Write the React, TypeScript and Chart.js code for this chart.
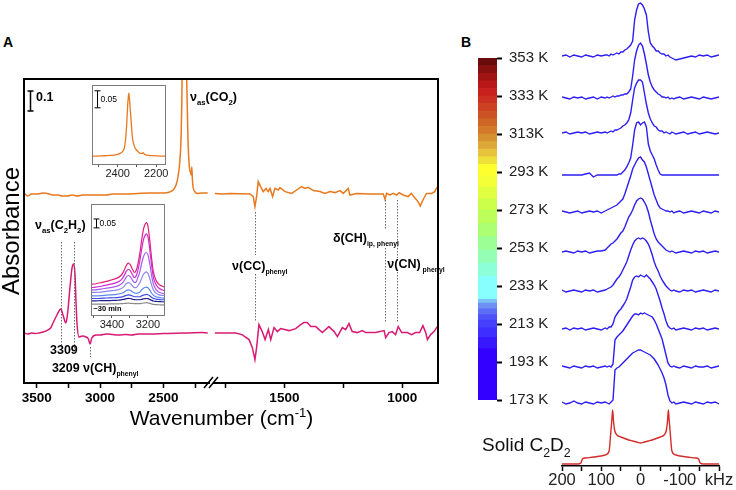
import React, { useEffect, useRef } from 'react';
import { Chart, registerables } from 'chart.js';
Chart.register(...registerables);

const FONT = "Arial, 'Liberation Sans', Helvetica, sans-serif";
const ORANGE = '#e8791f';
const MAGENTA = '#d81a74';
const BLUE = '#2d1ef5';
const RED = '#d42a2a';

// ---------------- Panel A : IR spectra ----------------
const ORANGE_OFFSET = 0.94;
const MAGENTA_OFFSET = 0.25;
const TICKS_LEFT = [3500, 3250, 3000, 2750, 2500, 2250];
const TICKS_RIGHT = [1750, 1500, 1250, 1000];

const ORG_L_WN = [3600,3570,3540,3500,3470,3440,3400,3370,3330,3300,3260,3220,3180,3140,3100,3050,3000,2950,2900,2800,2700,2600,2500,2450,2424,2400,2385,2370,2360,2352,2345,2340,2330,2322,2315,2306,2295,2285,2280,2276,2272,2266,2250,2235,2200,2170,2150];
const ORG_L = [0.01,-0.005,0.005,0.005,0.008,0.01,0.005,0,0,-0.005,-0.005,0,-0.005,0,0,0,0,0,0.005,0.005,0.008,0.01,0.01,0.015,0.025,0.05,0.09,0.17,0.3,0.6,1.2,1.6,1.4,0.9,0.55,0.28,0.14,0.11,0.1,0.14,0.09,0.04,0.015,0.008,0.01,0.01,0.01];

const ORG_R_WN = [1795,1760,1731,1690,1646,1632,1625,1618,1611,1601,1590,1578,1569,1561,1550,1540,1526,1519,1497,1469,1448,1427,1413,1399,1377,1349,1328,1307,1285,1264,1250,1229,1222,1193,1137,1080,1073,1066,1052,1038,1024,1013,996,975,961,951,933,923,912,897,876,862,855,850];
const ORG_R = [0.008,0.005,0.008,0.006,0.005,-0.008,-0.058,-0.008,0.067,0.042,0.017,0.033,0.017,0.033,-0.008,0.033,0.025,0.037,0.017,0.008,0.025,0.042,0.033,0.038,0.022,0.017,0.008,0.017,0.012,0.022,0.008,0.033,0,0.008,0.005,0.005,-0.022,0.008,0,0.008,0,0.012,0,-0.008,0.008,-0.008,-0.033,-0.055,-0.025,0.008,0.008,0.017,0.033,0.04];

const MAG_L_WN = [3600,3570,3540,3510,3480,3450,3420,3390,3371,3340,3309,3292,3270,3262,3253,3237,3221,3209,3198,3190,3182,3166,3140,3110,3092,3079,3065,3030,3000,2950,2900,2850,2800,2750,2700,2600,2500,2400,2300,2200,2150];
const MAG_L = [0,-0.005,0,-0.003,0,0.005,0.012,0.025,0.05,0.09,0.12,0.09,0.05,0.07,0.115,0.23,0.325,0.345,0.3,0.165,0.05,-0.02,-0.015,-0.02,-0.03,-0.055,-0.025,-0.01,-0.01,-0.005,-0.008,-0.01,-0.008,-0.01,-0.005,-0.005,-0.003,-0.001,0,0.002,0];

const MAG_R_WN = [1795,1760,1707,1680,1650,1636,1625,1618,1608,1594,1582,1568,1558,1544,1530,1516,1480,1452,1431,1417,1403,1388,1367,1339,1311,1289,1275,1254,1240,1226,1212,1191,1169,1155,1112,1077,1070,1056,1042,1028,1017,1002,978,960,943,926,912,900,893,879,865,851];
const MAG_R = [0,0,0,-0.008,-0.033,-0.073,-0.133,-0.073,0.042,0.007,-0.033,0.017,-0.033,0.027,0.007,0.022,0.012,0.022,0.042,0.052,0.052,0.032,0.032,0.002,0.032,0.007,-0.018,0.027,0.017,0.047,0.007,0.002,0.012,0.002,0.002,0.012,-0.023,0.002,0.007,-0.008,0.032,0.002,0.002,-0.008,0.002,0.002,0.037,0.002,-0.033,-0.008,0.007,0.032];

// inset 1 (CO2 band)
const INS1_WN = [2530,2480,2440,2420,2400,2385,2374,2365,2359,2354,2350,2346,2342,2338,2333,2328,2324,2316,2308,2295,2282,2272,2267,2262,2248,2200,2150];
const INS1 = [0.026,0.027,0.028,0.029,0.031,0.035,0.04,0.05,0.074,0.11,0.153,0.19,0.211,0.19,0.153,0.115,0.084,0.06,0.049,0.04,0.034,0.034,0.036,0.032,0.029,0.027,0.026];
const INS1_TICKS = [2500, 2400, 2300, 2200];

// inset 2 (C2H2 uptake series, top -> bottom)
const INS2_WN = [3515,3490,3460,3430,3400,3375,3350,3335,3320,3309,3298,3285,3275,3265,3255,3245,3235,3225,3217,3209,3200,3190,3180,3170,3155,3140,3120,3105];
const INS2_T1 = [0.178,0.181,0.187,0.194,0.203,0.211,0.227,0.249,0.283,0.297,0.288,0.261,0.244,0.256,0.294,0.35,0.423,0.484,0.512,0.524,0.506,0.428,0.328,0.251,0.201,0.179,0.167,0.161];
const INS2_T2 = [0.159,0.162,0.167,0.173,0.18,0.187,0.201,0.221,0.25,0.262,0.254,0.23,0.216,0.225,0.259,0.308,0.372,0.426,0.45,0.461,0.445,0.377,0.288,0.22,0.176,0.157,0.146,0.141];
const INS2_T3 = [0.146,0.147,0.151,0.156,0.161,0.166,0.178,0.193,0.217,0.227,0.221,0.2,0.188,0.191,0.218,0.247,0.293,0.331,0.349,0.356,0.344,0.295,0.231,0.182,0.149,0.134,0.127,0.122];
const INS2_T4 = [0.132,0.133,0.134,0.138,0.142,0.145,0.153,0.163,0.181,0.187,0.183,0.168,0.159,0.159,0.171,0.186,0.211,0.233,0.242,0.247,0.24,0.212,0.176,0.147,0.128,0.12,0.115,0.113];
const INS2_T5 = [0.113,0.113,0.114,0.117,0.119,0.121,0.126,0.132,0.143,0.147,0.144,0.135,0.13,0.127,0.13,0.134,0.146,0.156,0.16,0.162,0.158,0.146,0.129,0.117,0.108,0.104,0.101,0.1];
const INS2_T6 = [0.098,0.098,0.099,0.101,0.102,0.103,0.106,0.11,0.116,0.118,0.117,0.112,0.108,0.108,0.108,0.108,0.113,0.117,0.119,0.121,0.119,0.113,0.105,0.099,0.095,0.093,0.091,0.091];
const INS2_T7 = [0.085,0.085,0.086,0.086,0.087,0.088,0.09,0.093,0.097,0.099,0.098,0.094,0.092,0.091,0.091,0.091,0.093,0.096,0.097,0.098,0.097,0.093,0.088,0.084,0.082,0.081,0.08,0.079];
const INS2_T8 = [0.067,0.067,0.067,0.067,0.068,0.068,0.069,0.07,0.071,0.072,0.071,0.07,0.069,0.069,0.069,0.069,0.071,0.073,0.074,0.075,0.074,0.071,0.068,0.065,0.064,0.063,0.062,0.061];
const INS2_SERIES = [INS2_T8, INS2_T7, INS2_T6, INS2_T5, INS2_T4, INS2_T3, INS2_T2, INS2_T1];
const INS2_COLORS = ['#8a8a8a', '#1c1c8c', '#3a4ee0', '#5b86f0', '#8b85f2', '#a75cf0', '#d02ad0', '#e0207a'];
const INS2_TICKS = [3500, 3400, 3300, 3200];

// ---------------- Panel B : 2H NMR ----------------
const KHZ = [200,190,180,170,160,150,140,130,120,110,100,90,85,80,75,70,65,60,55,50,45,40,35,30,25,20,15,10,5,0,-5,-10,-15,-20,-25,-30,-35,-40,-45,-50,-55,-60,-65,-70,-75,-80,-85,-90,-100,-110,-120,-130,-140,-150,-160,-170,-180,-190,-200];
const NMR_353 = [0,1,-1,1,0,-1,1,0,-1,1,0,1, 1,0,2,1,2,3,2,4,4,6,7,9,11,15,36,46,52,53,51,47,41,24,13,10,8,5,5,3,2,2,0,1,-1,-2,-3, -4,-3,-2,-1,0,-1,1,0,1,-1,0,1];
const NMR_333 = [1,0,-1,1,0,1,-1,0,1,-1,1,0, 1,0,1,2,1,2,2,3,3,4,4,6,9,22,38,47,53,55,52,44,34,23,16,11,8,6,4,3,1,1,0,1,-1,0,-1, 0,1,-1,0,1,0,-1,1,0,-1,0,1];
const NMR_313 = [0,1,-1,0,1,0,1,-1,0,1,0,1, 0,1,2,1,3,3,4,5,7,8,10,13,20,33,45,50,53,53,51,40,29,20,14,10,7,6,3,2,2,0,1,0,-1,1,0, -1,0,1,-1,0,1,-1,0,1,0,-1,0];
const NMR_293 = [0,0,0,0,0,0,1,2,-2,0,0,0, 0,0,0,0,0,0,1,1,3,5,8,12,17,30,45,52,53,50,52,53,48,31,24,20,16,10,5,1,0,0,0,0,0,0,0, 0,0,0,0,0,0,0,0,0,0,0,0];
const NMR_273 = [1,0,-1,0,1,-1,0,1,0,1,-1,1, 2,3,4,5,6,7,9,11,13,18,24,30,36,43,47,51,54,55,52,50,45,38,31,24,17,12,7,4,3,2,1,1,0,1,-1, 0,1,-1,0,1,0,-1,1,0,-1,1,0];
const NMR_253 = [0,1,0,-1,1,0,1,-1,0,1,1,2, 4,6,8,9,11,13,16,19,21,25,30,35,38,42,47,51,53,54,53,50,46,40,32,25,18,13,10,8,6,4,2,1,0,1,0, -1,0,1,0,-1,1,0,1,-1,0,1,0];
const NMR_233 = [1,-1,0,1,0,-1,1,0,1,-1,0,1, 2,3,4,6,9,12,14,17,21,25,29,35,41,46,50,52,53,52,53,52,50,47,42,36,29,24,20,15,11,8,5,3,1,0,1, 0,-1,1,0,1,-1,0,1,0,-1,1,0];
const NMR_213 = [0,1,-1,1,0,1,-1,0,1,0,-1,1, 0,2,2,5,12,15,18,20,23,26,30,36,42,49,52,53,52,54,53,52,54,52,50,47,44,40,34,28,21,15,8,3,1,0,1, -1,0,1,0,-1,1,0,1,-1,0,1,0];
const NMR_193 = [1,0,-1,1,0,-1,1,0,1,-1,0,1, 0,1,0,3,27,30,32,34,36,39,42,45,48,51,53,53,52,54,53,54,53,52,51,50,47,43,38,33,28,20,12,4,1,0,1, 0,-1,1,0,-1,1,0,0,1,-1,0,1];
const NMR_173 = [1,-1,0,2,0,-1,1,0,-1,1,0,1, 0,-1,1,3,33,35,36,38,40,42,44,46,48,50,51,52,53,53,52,51,50,49,48,46,44,41,38,34,30,25,18,8,2,0,1, -1,0,1,0,-1,1,0,-1,1,0,1,-1];
const NMR_SERIES = [NMR_353, NMR_333, NMR_313, NMR_293, NMR_273, NMR_253, NMR_233, NMR_213, NMR_193, NMR_173];
const NMR_OFFSETS = [410, 368, 333, 291, 254, 214, 175, 137, 99, 63];

const SOLID_KHZ = [200,180,160,152,148,140,120,100,90,80,76,73,71,69,66,60,50,40,30,20,10,0,-10,-20,-30,-40,-50,-60,-66,-69,-71,-73,-76,-80,-90,-100,-120,-140,-148,-152,-160,-180,-200];
const SOLID_I = [2,2,2,3,7,8,9,10,11,15,32,46,56,46,36,31,29,27.5,26,25,24,23,24,25,26,27.5,29,31,36,46,56,46,32,15,11,10,9,8,7,3,2,2,2];

const KHZ_TICKS = [200, 150, 100, 50, 0, -50, -100, -150, -200];
const KHZ_LABELS: Record<string, string> = { '200': '200', '100': '100', '0': '0', '-100': '-100', '-200': 'kHz' };

// colour bar
const CB_TICKS = [353, 333, 313, 293, 273, 253, 233, 213, 193, 173];
const CB_LABELS = ['353 K', '333 K', '313K', '293 K', '273 K', '253 K', '233 K', '213 K', '193 K', '173 K'];
const CB_EDGES = [173,200,206,211,215,218,221,224,226,238,245,252,259,266,273,279,285,291,297,301,305,309,313,317,321,325,329,333,337,341,345,349,353];
const CB_COLORS = ['#3300ff','#3818ff','#3e2eff','#4640fc','#4e52f8','#5c6ef5','#6c90f4','#7cc0f8','#88ffff','#8cffd8','#94ffb4','#9cff96','#acff72','#bcff5a','#ccff4a','#e0ff40','#f4ff38','#ffff30','#f0e03c','#e8c43e','#dea838','#d69030','#d27a2a','#ce6626','#cc5424','#cc4222','#cc3020','#c8201c','#b81818','#a01414','#861010','#6a0c0c'];

// ---------------- helpers ----------------
type Seg = { t: string; s?: 'sub' | 'sup'; k?: number };

function drawRich(ctx: any, segs: Seg[], x: number, y: number, size: number, weight: string, color: string, align: 'left' | 'center' = 'left') {
  ctx.save();
  ctx.fillStyle = color;
  ctx.textBaseline = 'alphabetic';
  ctx.textAlign = 'left';
  const sz = (g: Seg) => (g.s ? size * (g.k || 0.62) : size);
  let w = 0;
  for (const g of segs) { ctx.font = `${weight} ${sz(g)}px ${FONT}`; w += ctx.measureText(g.t).width; }
  let cx = align === 'center' ? x - w / 2 : x;
  for (const g of segs) {
    ctx.font = `${weight} ${sz(g)}px ${FONT}`;
    const dy = g.s === 'sub' ? size * 0.3 : g.s === 'sup' ? -size * 0.38 : 0;
    ctx.fillText(g.t, cx, y + dy);
    cx += ctx.measureText(g.t).width;
  }
  ctx.restore();
}

function scaleBar(ctx: any, x: number, y0: number, y1: number) {
  ctx.beginPath();
  ctx.moveTo(x, y0); ctx.lineTo(x, y1);
  ctx.moveTo(x - 3, y0); ctx.lineTo(x + 3, y0);
  ctx.moveTo(x - 3, y1); ctx.lineTo(x + 3, y1);
  ctx.stroke();
}

const pts = (xs: number[], ys: number[], off = 0) => xs.map((x, i) => ({ x, y: ys[i] + off }));
const fixedTicks = (vals: number[]) => (s: any) => { s.ticks = vals.map((v) => ({ value: v })); };

// annotations of panel A (data coordinates; 'L' = 3600-2140 segment, 'R' = 1820-848 segment)
const A_LABELS: { side: string; x: number; y: number; segs: Seg[] }[] = [
  { side: 'L', x: 3505, y: 1.41, segs: [{ t: '0.1' }] },
  { side: 'L', x: 2290, y: 1.41, segs: [{ t: 'ν' }, { t: 'as', s: 'sub' }, { t: '(CO' }, { t: '2', s: 'sub' }, { t: ')' }] },
  { side: 'L', x: 3513, y: 0.77, segs: [{ t: 'ν' }, { t: 'as', s: 'sub' }, { t: '(C' }, { t: '2', s: 'sub' }, { t: 'H' }, { t: '2', s: 'sub' }, { t: ')' }] },
  { side: 'L', x: 3395, y: 0.145, segs: [{ t: '3309' }] },
  { side: 'L', x: 3380, y: 0.055, segs: [{ t: '3209' }] },
  { side: 'L', x: 3134, y: 0.055, segs: [{ t: 'ν(CH)' }, { t: 'phenyl', s: 'sub', k: 0.55 }] },
  { side: 'R', x: 1722, y: 0.565, segs: [{ t: 'ν(CC)' }, { t: 'phenyl', s: 'sub', k: 0.55 }] },
  { side: 'R', x: 1294, y: 0.705, segs: [{ t: 'δ(CH)' }, { t: 'ip, phenyl', s: 'sub', k: 0.55 }] },
  { side: 'R', x: 1063, y: 0.575, segs: [{ t: 'ν(CN)' }, { t: ' phenyl', s: 'sub', k: 0.55 }] },
];
const A_DOTTED = [
  { side: 'L', x: 3309, y0: 0.705, y1: 0.18 },
  { side: 'L', x: 3209, y0: 0.705, y1: 0.15 },
  { side: 'L', x: 3079, y0: 0.18, y1: 0.13 },
  { side: 'R', x: 1625, y0: 0.855, y1: 0.64 },
  { side: 'R', x: 1625, y0: 0.545, y1: 0.305 },
  { side: 'R', x: 1073, y0: 0.915, y1: 0.765 },
  { side: 'R', x: 1073, y0: 0.675, y1: 0.305 },
  { side: 'R', x: 1021, y0: 0.915, y1: 0.625 },
  { side: 'R', x: 1021, y0: 0.555, y1: 0.305 },
];

const panelAPlugin = {
  id: 'panelA',
  afterDraw(chart: any, _a: any, opts: any) {
    const side = opts.side;
    const { ctx, chartArea: ca, scales } = chart;
    const px = (v: number) => scales.x.getPixelForValue(v);
    const py = (v: number) => scales.y.getPixelForValue(v);
    ctx.save();
    ctx.strokeStyle = '#6a6a6a';
    ctx.lineWidth = 1;
    ctx.setLineDash([1.5, 1.5]);
    for (const d of A_DOTTED.filter((q) => q.side === side)) {
      const x = Math.round(px(d.x)) + 0.5;
      ctx.beginPath(); ctx.moveTo(x, py(d.y0)); ctx.lineTo(x, py(d.y1)); ctx.stroke();
    }
    ctx.setLineDash([]);
    // frame
    ctx.strokeStyle = '#000';
    ctx.lineWidth = 2;
    ctx.lineCap = 'square';
    ctx.beginPath();
    if (side === 'L') {
      ctx.moveTo(ca.right, ca.top); ctx.lineTo(ca.left, ca.top); ctx.lineTo(ca.left, ca.bottom); ctx.lineTo(ca.right, ca.bottom);
    } else {
      ctx.moveTo(ca.left, ca.top); ctx.lineTo(ca.right, ca.top); ctx.lineTo(ca.right, ca.bottom); ctx.lineTo(ca.left, ca.bottom);
    }
    ctx.stroke();
    ctx.lineCap = 'butt';
    if (side === 'R') {
      // axis break
      const bx = ca.left, by = ca.bottom;
      ctx.fillStyle = '#fff';
      ctx.beginPath();
      ctx.moveTo(bx - 5, by + 5); ctx.lineTo(bx + 4, by - 6); ctx.lineTo(bx + 9, by - 6); ctx.lineTo(bx, by + 5);
      ctx.closePath(); ctx.fill();
      ctx.lineWidth = 1.5;
      ctx.beginPath();
      ctx.moveTo(bx - 5, by + 5); ctx.lineTo(bx + 4, by - 6);
      ctx.moveTo(bx, by + 5); ctx.lineTo(bx + 9, by - 6);
      ctx.stroke();
      drawRich(ctx, [{ t: 'Wavenumber (cm' }, { t: '-1', s: 'sup', k: 0.62 }, { t: ')' }],
        ca.left + 12.5, ca.bottom + 42, 21, 'normal', '#000', 'center');
    } else {
      ctx.lineWidth = 1.5;
      scaleBar(ctx, Math.round(px(3553)) + 0.5, py(1.46), py(1.36));
    }
    for (const l of A_LABELS.filter((q) => q.side === side)) drawRich(ctx, l.segs, px(l.x), py(l.y), 12.5, 'bold', '#000');
    ctx.restore();
  },
};

const insetPlugin = {
  id: 'inset',
  beforeDraw(chart: any) {
    const { ctx, chartArea: ca } = chart;
    ctx.save(); ctx.fillStyle = '#fff';
    ctx.fillRect(ca.left, ca.top, ca.right - ca.left, ca.bottom - ca.top);
    ctx.restore();
  },
  afterDraw(chart: any, _a: any, opts: any) {
    const { ctx, chartArea: ca, scales } = chart;
    ctx.save();
    ctx.strokeStyle = '#7a7a7a'; ctx.lineWidth = 1;
    ctx.strokeRect(ca.left + 0.5, ca.top + 0.5, ca.right - ca.left - 1, ca.bottom - ca.top - 1);
    const bx = Math.round(scales.x.getPixelForValue(opts.barX)) + 0.5;
    ctx.strokeStyle = '#000'; ctx.lineWidth = 1;
    scaleBar(ctx, bx, scales.y.getPixelForValue(opts.barY + 0.05), scales.y.getPixelForValue(opts.barY));
    drawRich(ctx, [{ t: '0.05' }], bx + 3, scales.y.getPixelForValue(opts.barY + 0.025) + 3, 8.5, 'normal', '#000');
    if (opts.note) drawRich(ctx, [{ t: opts.note }], scales.x.getPixelForValue(opts.noteX), scales.y.getPixelForValue(opts.noteY), 7.5, 'bold', '#000');
    ctx.restore();
  },
};

const spectraPlugin = {
  id: 'nmrText',
  afterDraw(chart: any) {
    const { ctx, scales } = chart;
    drawRich(ctx, [{ t: 'Solid C' }, { t: '2', s: 'sub', k: 0.65 }, { t: 'D' }, { t: '2', s: 'sub', k: 0.65 }],
      scales.x.getPixelForValue(200) - 80, scales.y.getPixelForValue(15), 19, 'normal', '#111');
  },
};

const lineDs = (data: any[], color: string, width = 1.5, smooth = false) => ({
  data, borderColor: color, borderWidth: width, pointRadius: 0, fill: false,
  cubicInterpolationMode: smooth ? 'monotone' : 'default', tension: 0,
});

function wnAxis(min: number, max: number, tickVals: number[]) {
  return {
    type: 'linear', position: 'bottom', reverse: true, min, max,
    afterBuildTicks: fixedTicks(tickVals),
    ticks: {
      autoSkip: false, maxRotation: 0, padding: 2, color: '#000',
      font: { size: 13.5, weight: 'bold', family: FONT },
      callback: (v: number) => (v % 500 === 0 ? String(v) : ''),
    },
    grid: { drawOnChartArea: false, tickLength: 5, color: '#000', tickWidth: 1.5 },
    border: { display: false },
    afterFit: (s: any) => { s.height = 25; },
  };
}

function segmentConfig(side: string, min: number, max: number, tickVals: number[], datasets: any[], padding: any, showTitle: boolean): any {
  return {
    type: 'line',
    data: { datasets },
    options: {
      animation: false, responsive: false, maintainAspectRatio: false,
      layout: { padding },
      plugins: { legend: { display: false }, tooltip: { enabled: false }, panelA: { side } },
      scales: {
        x: wnAxis(min, max, tickVals),
        y: showTitle ? {
          type: 'linear', position: 'left', min: 0, max: 1.52,
          ticks: { display: false }, grid: { display: false, drawTicks: false }, border: { display: false },
          title: { display: true, text: 'Absorbance', color: '#000', padding: 0, font: { size: 24, family: FONT, lineHeight: 1 } },
        } : { display: false, min: 0, max: 1.52 },
      },
    },
    plugins: [panelAPlugin],
  };
}

function insetConfig(min: number, max: number, ymax: number, tickVals: number[], datasets: any[], opts: any): any {
  return {
    type: 'line',
    data: { datasets },
    options: {
      animation: false, responsive: false, maintainAspectRatio: false,
      layout: { padding: { left: 12, top: 5, right: 14, bottom: 0 } },
      plugins: { legend: { display: false }, tooltip: { enabled: false }, inset: opts },
      scales: {
        x: {
          type: 'linear', reverse: true, min, max,
          afterBuildTicks: fixedTicks(tickVals),
          ticks: { autoSkip: false, maxRotation: 0, padding: 0, color: '#222',
            font: { size: 11, family: FONT }, callback: (v: number) => (v % 200 === 0 ? String(v) : '') },
          grid: { drawOnChartArea: false, tickLength: 2, color: '#555' },
          border: { display: false },
          afterFit: (s: any) => { s.height = 20; },
        },
        y: { display: false, min: 0, max: ymax },
      },
    },
    plugins: [insetPlugin],
  };
}

export default function App() {
  const aLRef = useRef<HTMLCanvasElement>(null);
  const aRRef = useRef<HTMLCanvasElement>(null);
  const i1Ref = useRef<HTMLCanvasElement>(null);
  const i2Ref = useRef<HTMLCanvasElement>(null);
  const cbRef = useRef<HTMLCanvasElement>(null);
  const spRef = useRef<HTMLCanvasElement>(null);

  useEffect(() => {
    const charts: Chart[] = [];
    charts.push(new Chart(aRRef.current as any, segmentConfig('R', 848, 1820, TICKS_RIGHT, [
      lineDs(pts(ORG_R_WN, ORG_R, ORANGE_OFFSET), ORANGE, 1.5),
      lineDs(pts(MAG_R_WN, MAG_R, MAGENTA_OFFSET), MAGENTA, 1.5),
    ], { left: 109, top: 19, right: 12, bottom: 32 }, false)));

    charts.push(new Chart(aLRef.current as any, segmentConfig('L', 2140, 3600, TICKS_LEFT, [
      lineDs(pts(ORG_L_WN, ORG_L, ORANGE_OFFSET), ORANGE, 1.5, true),
      lineDs(pts(MAG_L_WN, MAG_L, MAGENTA_OFFSET), MAGENTA, 1.5, true),
    ], { left: 0, top: 19, right: 41, bottom: 32 }, true)));

    charts.push(new Chart(i1Ref.current as any, insetConfig(2149, 2533, 0.235, INS1_TICKS,
      [lineDs(pts(INS1_WN, INS1), ORANGE, 1.3, true)],
      { barX: 2507, barY: 0.168 })));

    charts.push(new Chart(i2Ref.current as any, insetConfig(3105, 3516, 0.628, INS2_TICKS,
      INS2_SERIES.map((s, k) => lineDs(pts(INS2_WN, s), INS2_COLORS[k], 1.2, true)),
      { barX: 3488, barY: 0.494, note: '~30 min', noteX: 3503, noteY: 0.03 })));

    charts.push(new Chart(cbRef.current as any, {
      type: 'bar',
      data: {
        labels: [''],
        datasets: CB_COLORS.map((c, i) => ({
          data: [[CB_EDGES[i], CB_EDGES[i + 1]]], backgroundColor: c, borderWidth: 0,
          grouped: false, barPercentage: 1, categoryPercentage: 1,
        })),
      },
      options: {
        animation: false, responsive: false, maintainAspectRatio: false,
        layout: { padding: { left: 8, top: 18, right: 3, bottom: 20 } },
        plugins: { legend: { display: false }, tooltip: { enabled: false } },
        scales: {
          x: { display: false },
          y: {
            position: 'right', min: 173, max: 353,
            afterBuildTicks: fixedTicks(CB_TICKS),
            afterFit: (s: any) => { s.width = 60; },
            ticks: { padding: 7, color: '#222', font: { size: 15, family: FONT },
              callback: (v: number) => CB_LABELS[CB_TICKS.indexOf(v)] },
            grid: { drawOnChartArea: false, tickLength: 5, color: '#000', tickWidth: 2 },
            border: { display: false },
          },
        },
      } as any,
    } as any));

    charts.push(new Chart(spRef.current as any, {
      type: 'line',
      data: {
        datasets: [
          ...NMR_SERIES.map((s, k) => lineDs(pts(KHZ, s, NMR_OFFSETS[k]), BLUE, 1.4)),
          lineDs(pts(SOLID_KHZ, SOLID_I), RED, 1.4, true),
        ] as any,
      },
      options: {
        animation: false, responsive: false, maintainAspectRatio: false,
        layout: { padding: { left: 92, top: 0, right: 17, bottom: 0 } },
        plugins: { legend: { display: false }, tooltip: { enabled: false } },
        scales: {
          x: {
            type: 'linear', reverse: true, min: -200, max: 200,
            afterBuildTicks: fixedTicks(KHZ_TICKS),
            ticks: { autoSkip: false, maxRotation: 0, padding: 0, color: '#222',
              font: { size: 16.5, family: FONT }, callback: (v: number) => KHZ_LABELS[String(v)] || '' },
            grid: { drawOnChartArea: false, tickLength: 5, color: '#000', tickWidth: 1.5 },
            border: { display: true, color: '#000', width: 1.5 },
            afterFit: (s: any) => { s.height = 28; },
          },
          y: { display: false, min: 0, max: 466 },
        },
      } as any,
      plugins: [spectraPlugin],
    } as any));

    return () => charts.forEach((c) => c.destroy());
  }, []);

  const abs = (l: number, t: number, w: number, h: number): React.CSSProperties => ({ position: 'absolute', left: l, top: t, width: w, height: h });
  const letter: React.CSSProperties = { position: 'absolute', font: `bold 14px ${FONT}`, lineHeight: '14px', color: '#000' };

  return (
    <div style={{ position: 'fixed', left: 0, top: 0, width: 736, height: 490, overflow: 'hidden', background: '#fff' }}>
      <div style={{ ...letter, left: 3, top: 35 }}>A</div>
      <div style={{ ...letter, left: 461, top: 35 }}>B</div>
      <canvas ref={aRRef} width={350} height={380} style={abs(100, 60, 350, 380)} />
      <canvas ref={aLRef} width={250} height={380} style={abs(0, 60, 250, 380)} />
      <canvas ref={i1Ref} width={100} height={105} style={abs(80, 80, 100, 105)} />
      <canvas ref={i2Ref} width={100} height={137} style={abs(79, 199, 100, 137)} />
      <canvas ref={spRef} width={266} height={494} style={abs(470, 0, 266, 494)} />
      <canvas ref={cbRef} width={90} height={380} style={abs(470, 40, 90, 380)} />
    </div>
  );
}
